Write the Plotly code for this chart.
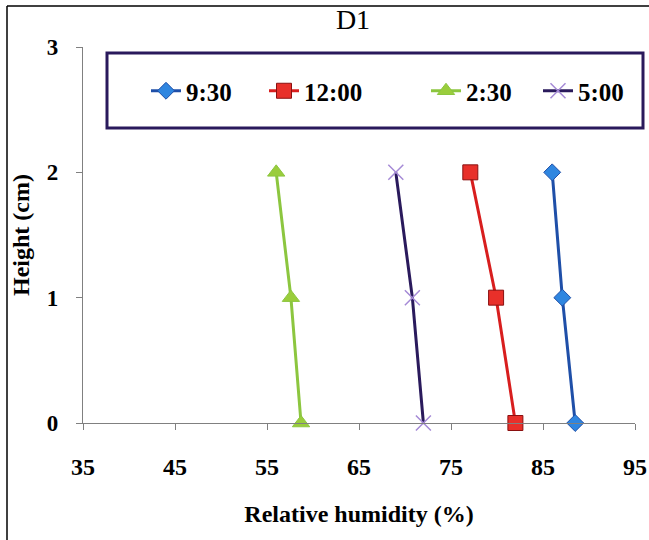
import plotly.graph_objects as go

heights = [0, 1, 2]
series_names = ["9:30", "12:00", "2:30", "5:00"]
rh_0930 = [88.5, 87.1, 86.0]
rh_1200 = [82.0, 79.9, 77.1]
rh_0230 = [58.7, 57.6, 56.0]
rh_0500 = [72.0, 70.8, 69.0]
x_ticks = [35, 45, 55, 65, 75, 85, 95]
y_ticks = [0, 1, 2, 3]

FONT = "Liberation Serif, Times New Roman, serif"

styles = [
    dict(line=dict(color="#1f4fa8", width=3),
         marker=dict(symbol="diamond", size=13, color="#2f86e0", line=dict(color="#1f4fa8", width=1))),
    dict(line=dict(color="#d81e1e", width=3),
         marker=dict(symbol="square", size=15, color="#e8302a", line=dict(color="#8a1010", width=1))),
    dict(line=dict(color="#8cc63f", width=3),
         marker=dict(symbol="triangle-up", size=15, color="#9acd3c", line=dict(color="#8cc63f", width=1))),
    dict(line=dict(color="#2a1a5c", width=3),
         marker=dict(symbol="x-thin", size=15, color="#a58ad6", line=dict(color="#a58ad6", width=1.5))),
]

legend_ids = ["legend", "legend2", "legend3", "legend4"]

fig = go.Figure()
for name, vals, st, lg in zip(series_names, [rh_0930, rh_1200, rh_0230, rh_0500], styles, legend_ids):
    fig.add_trace(go.Scatter(x=vals, y=heights, name=name, mode="lines+markers",
                             line=st["line"], marker=st["marker"], cliponaxis=False,
                             legend=lg))

W, H = 649, 540
plot_l, plot_r, plot_t, plot_b = 83, 14, 47, 117
pw = W - plot_l - plot_r
ph = H - plot_t - plot_b

def px_x(p):
    return (p - plot_l) / pw

def px_y(p):
    return (H - plot_b - p) / ph

legend_font = dict(family=FONT, size=25, color="black", weight="bold")
legend_starts = [146, 264, 426, 538]
legends = {}
for lg, xs in zip(legend_ids, legend_starts):
    legends[lg] = dict(orientation="h", x=px_x(xs), xref="paper", xanchor="left",
                       y=px_y(91), yref="paper", yanchor="middle",
                       bgcolor="rgba(0,0,0,0)", borderwidth=0,
                       font=legend_font)

fig.update_layout(
    width=W, height=H,
    margin=dict(l=plot_l, r=plot_r, t=plot_t, b=plot_b, autoexpand=False),
    paper_bgcolor="white", plot_bgcolor="white",
    font=dict(family=FONT, color="black"),
    title=dict(text="D1", x=353 / W, xanchor="center", xref="container",
               y=1 - 19 / H, yanchor="middle", yref="container",
               font=dict(family=FONT, size=28, color="black")),
    xaxis=dict(range=[35, 95], tickvals=x_ticks, ticks="outside", ticklen=6,
               tickcolor="#808080", showline=True, linecolor="#808080", linewidth=1.2,
               showgrid=False, zeroline=False, ticklabelstandoff=16,
               tickfont=dict(family=FONT, size=24, color="black", weight="bold"),
               title=dict(text="Relative humidity (%)", standoff=26,
                          font=dict(family=FONT, size=24, color="black", weight="bold"))),
    yaxis=dict(range=[0, 3], tickvals=y_ticks, ticks="outside", ticklen=6,
               tickcolor="#808080", showline=True, linecolor="#808080", linewidth=1.2,
               showgrid=False, zeroline=False, ticklabelstandoff=13,
               tickfont=dict(family=FONT, size=23, color="black", weight="bold"),
               title=dict(text="Height (cm)", standoff=10,
                          font=dict(family=FONT, size=24, color="black", weight="bold"))),
    showlegend=True,
    **legends,
)

# legend frame
fig.add_shape(type="rect", xref="paper", yref="paper",
              x0=px_x(107), x1=px_x(643), y0=px_y(128), y1=px_y(53),
              line=dict(color="#2a1a5c", width=3), layer="below")
# outer image border (left and top visible)
fig.add_shape(type="line", xref="paper", yref="paper",
              x0=px_x(7), x1=px_x(7), y0=px_y(545), y1=px_y(6),
              line=dict(color="black", width=1.5))
fig.add_shape(type="line", xref="paper", yref="paper",
              x0=px_x(7), x1=px_x(655), y0=px_y(6), y1=px_y(6),
              line=dict(color="black", width=1.5))

fig.write_html("out.html")
